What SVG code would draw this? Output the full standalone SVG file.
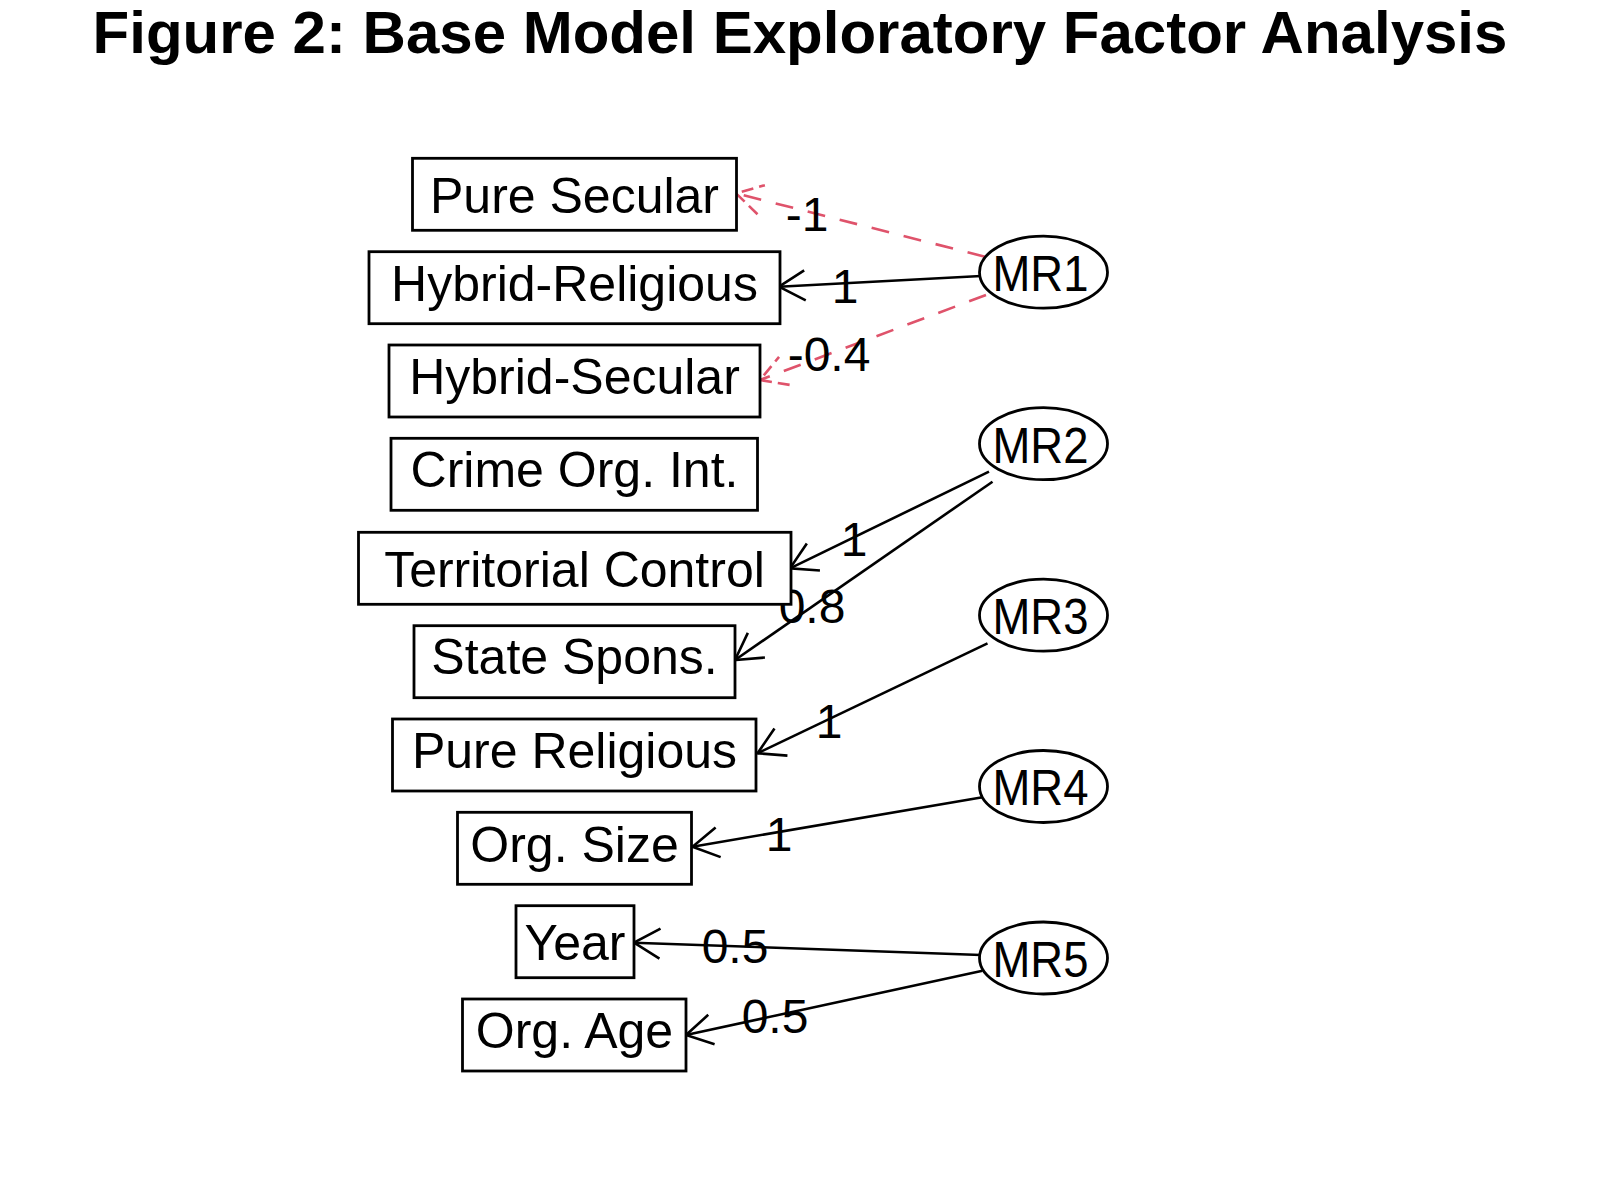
<svg xmlns="http://www.w3.org/2000/svg" width="1600" height="1200" viewBox="0 0 1600 1200">
<style>
.bg{fill:#fff}
.box{fill:#fff;stroke:#000;stroke-width:2.8}
.ell{fill:#fff;stroke:#000;stroke-width:2.8}
.nt{font-family:"Liberation Sans",Arial,sans-serif;font-size:50px;text-anchor:middle;fill:#000}
.mt{font-family:"Liberation Sans",Arial,sans-serif;font-size:50px;text-anchor:middle;fill:#000}
.lab{font-family:"Liberation Sans",Arial,sans-serif;font-size:48px;text-anchor:middle;fill:#000}
.title{font-family:"Liberation Sans",Arial,sans-serif;font-size:60px;font-weight:bold;text-anchor:middle;fill:#000}
.pos{fill:none;stroke:#000;stroke-width:2.6;marker-end:url(#ab)}
.neg{fill:none;stroke:#DF536B;stroke-width:2.6;stroke-dasharray:18 15;marker-end:url(#ar)}
</style>
<defs>
<marker id="ab" markerUnits="userSpaceOnUse" orient="auto" refX="0" refY="0" markerWidth="40" markerHeight="40" viewBox="-30 -20 40 40" overflow="visible">
<path d="M-26,-15 L0,0 L-26,15" fill="none" stroke="#000" stroke-width="2.6"/>
</marker>
<marker id="ar" markerUnits="userSpaceOnUse" orient="auto" refX="0" refY="0" markerWidth="40" markerHeight="40" viewBox="-30 -20 40 40" overflow="visible">
<path d="M-26,-15 L0,0 L-26,15" fill="none" stroke="#DF536B" stroke-width="2.6" stroke-dasharray="12 6"/>
</marker>
</defs>
<rect class="bg" x="0" y="0" width="1600" height="1200"/>
<text class="title" x="800" y="53">Figure 2: Base Model Exploratory Factor Analysis</text>

<g id="connectors">
<line class="neg" x1="985" y1="256.7" x2="736" y2="193.3"/>
<line class="pos" x1="981" y1="276" x2="779" y2="286.7"/>
<line class="neg" x1="986" y1="295" x2="760" y2="380"/>
<line class="pos" x1="989" y1="471.7" x2="790" y2="568.3"/>
<line class="pos" x1="992.5" y1="481.7" x2="735" y2="660"/>
<line class="pos" x1="987.5" y1="643.3" x2="757.5" y2="753.3"/>
<line class="pos" x1="982.5" y1="797.3" x2="692.5" y2="846.7"/>
<line class="pos" x1="981" y1="955" x2="634" y2="942.7"/>
<line class="pos" x1="982.5" y1="970.7" x2="686" y2="1035"/>
<text class="lab" x="807" y="231">-1</text>
<text class="lab" x="845" y="303">1</text>
<text class="lab" x="829" y="371">-0.4</text>
<text class="lab" x="854" y="556">1</text>
<text class="lab" x="812" y="623">0.8</text>
<text class="lab" x="829" y="738">1</text>
<text class="lab" x="779" y="851">1</text>
<text class="lab" x="735" y="963">0.5</text>
<text class="lab" x="775" y="1033">0.5</text>
</g>

<g id="n-pure-secular"><rect class="box" x="412.5" y="158.3" width="324" height="72"/><text class="nt" x="574.5" y="212.7">Pure Secular</text></g>
<g id="n-hybrid-religious"><rect class="box" x="369" y="251.7" width="411" height="72"/><text class="nt" x="574.5" y="300.8">Hybrid-Religious</text></g>
<g id="n-hybrid-secular"><rect class="box" x="389" y="345" width="371" height="72"/><text class="nt" x="574.5" y="394.2">Hybrid-Secular</text></g>
<g id="n-crime"><rect class="box" x="391" y="438.3" width="366.5" height="72"/><text class="nt" x="574.5" y="487">Crime Org. Int.</text></g>
<g id="n-territorial"><rect class="box" x="358.5" y="532.3" width="432.5" height="72"/><text class="nt" x="574.5" y="586.8">Territorial Control</text></g>
<g id="n-state"><rect class="box" x="414" y="625.7" width="321" height="72"/><text class="nt" x="574.5" y="673.5">State Spons.</text></g>
<g id="n-pure-religious"><rect class="box" x="392.5" y="719" width="363.5" height="72"/><text class="nt" x="574.5" y="768.3">Pure Religious</text></g>
<g id="n-org-size"><rect class="box" x="457.5" y="812.3" width="234" height="72"/><text class="nt" x="574.5" y="861.7">Org. Size</text></g>
<g id="n-year"><rect class="box" x="516" y="905.7" width="118" height="72"/><text class="nt" x="575" y="960">Year</text></g>
<g id="n-org-age"><rect class="box" x="462.5" y="999" width="223.5" height="72"/><text class="nt" x="574.5" y="1048.3">Org. Age</text></g>

<g id="n-MR1"><ellipse class="ell" cx="1043.5" cy="272.2" rx="64" ry="36"/><text class="mt" x="1040.5" y="291" textLength="96" lengthAdjust="spacingAndGlyphs">MR1</text></g>
<g id="n-MR2"><ellipse class="ell" cx="1043.5" cy="443.7" rx="64" ry="36"/><text class="mt" x="1040.5" y="462.5" textLength="96" lengthAdjust="spacingAndGlyphs">MR2</text></g>
<g id="n-MR3"><ellipse class="ell" cx="1043.5" cy="615.2" rx="64" ry="36"/><text class="mt" x="1040.5" y="634" textLength="96" lengthAdjust="spacingAndGlyphs">MR3</text></g>
<g id="n-MR4"><ellipse class="ell" cx="1043.5" cy="786.5" rx="64" ry="36"/><text class="mt" x="1040.5" y="805.3" textLength="96" lengthAdjust="spacingAndGlyphs">MR4</text></g>
<g id="n-MR5"><ellipse class="ell" cx="1043.5" cy="958" rx="64" ry="36"/><text class="mt" x="1040.5" y="976.8" textLength="96" lengthAdjust="spacingAndGlyphs">MR5</text></g>
</svg>
